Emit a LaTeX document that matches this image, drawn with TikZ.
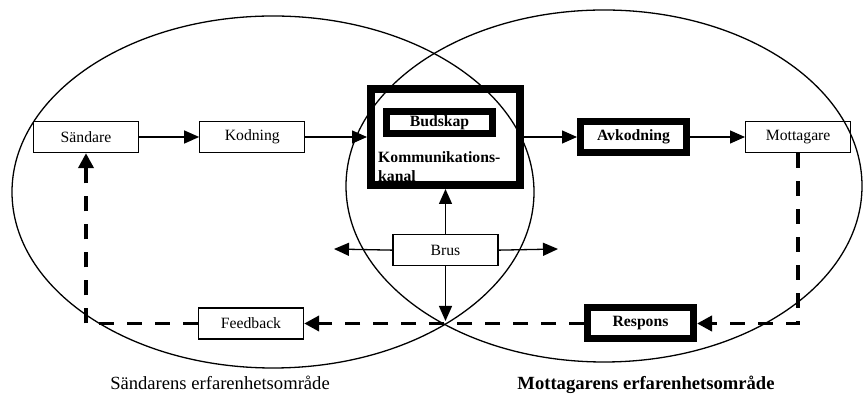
\documentclass[tikz,border=0pt]{standalone}
\usepackage{fontspec}
\setmainfont{Liberation Serif}
\usetikzlibrary{positioning,arrows.meta}

\begin{document}
\begin{tikzpicture}[
		x=1pt, y=1pt
		,every node/.append style={inner sep=0pt, font=\fontsize{15.7}{19}\selectfont}
		,box/.style={draw, line width=1.3pt, minimum width=105pt, minimum height=31pt}
		,fat/.style={draw, line width=7pt, minimum width=106pt, minimum height=31pt, font=\fontsize{15.7}{19}\selectfont\bfseries}
		,arr/.style={line width=1.3pt, -{Triangle[length=15pt, width=13pt]}}
		,back/.style={line width=3.8pt, dash pattern=on 15pt off 13pt, -{Triangle[length=15pt, width=15pt]}}
		,area/.style={font=\fontsize{18.6}{22}\selectfont}
	]
		\useasboundingbox (0,0) rectangle (864,395);
		% erfarenhetsomraden
		\draw[line width=1.3pt] (273,203) ellipse [x radius=261pt, y radius=176pt];
		\draw[line width=1.3pt] (604,209) ellipse [x radius=258pt, y radius=176pt];

		\node [box] (send) at (86,258) {Sändare};
		\node [box, right=60pt of send] (kod) {Kodning};
		\node [draw, line width=8pt, minimum width=149pt, minimum height=96pt] (kanal) at (445.5,258) {};
		\node [fat, minimum height=22pt] (bud) at (439.5,272.5) {Budskap};
		\node [anchor=north west, align=left, font=\fontsize{15.7}{19}\selectfont\bfseries] (kanaltxt) at (378,243.7) {Kommunikations-\\kanal};
		\node [fat, right=53pt of kanal] (avk) {Avkodning};
		\node [box, right=55pt of avk] (mott) {Mottagare};
		\node [box, below=45pt of kanal] (brus) {Brus};
		\node [box] (feed) at (251,71.5) {Feedback};
		\node [fat] (resp) at (640.5,71.5) {Respons};

		\node [area, anchor=base] (sarea) at (220,5) {Sändarens erfarenhetsområde};
		\node [area, anchor=base, font=\fontsize{18.6}{22}\selectfont\bfseries] (marea) at (646,5) {Mottagarens erfarenhetsområde};

		\coordinate (bw) at (334,146);
		\coordinate (be) at (558,146);
		\coordinate (bs) at (445.5,74);

		% flodet
		\draw[arr] (send) -- (kod);
		\draw[arr] (kod) -- (kanal);
		\draw[arr] (kanal) -- (avk);
		\draw[arr] (avk) -- (mott);

		% brus
		\draw[arr] (brus) -- (kanal);
		\draw[arr] (brus.west) -- (bw);
		\draw[arr] (brus.east) -- (be);
		\draw[arr] (brus.south) -- (bs);

		% aterkoppling
		\draw[back] (mott.south) |- (resp.east);
		\draw[back] (resp.west) -- (feed.east);
		\draw[back] (feed.west) -| (send.south);
	\end{tikzpicture}
\end{document}
